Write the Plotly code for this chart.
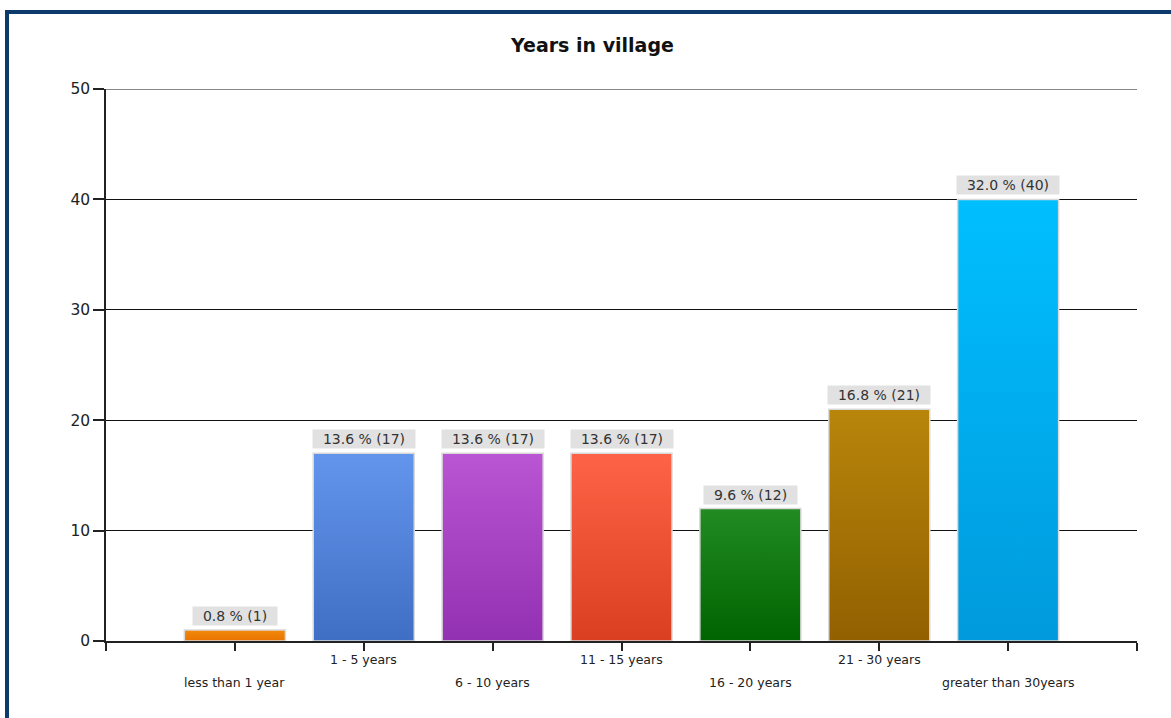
import plotly.graph_objects as go

# Survey answers: how long respondents have lived in the village
categories = ["less than 1 year", "1 - 5 years", "6 - 10 years", "11 - 15 years",
              "16 - 20 years", "21 - 30 years", "greater than 30years"]
counts = [1, 17, 17, 17, 12, 21, 40]

# Gradient end colours per bar (top, bottom)
top_colors = ["#F28A0C", "#6495ED", "#BA55D3", "#FF6347", "#228B22", "#B8860B", "#00BFFF"]
bottom_colors = ["#E97300", "#3F6FC4", "#9231B2", "#DA3F22", "#006400", "#926000", "#009ADC"]

y_ticks = [0, 10, 20, 30, 40, 50]

total = sum(counts)
FONT = "DejaVu Sans"
HALF_W = 0.392

fig = go.Figure()

# Bars as filled polygons so they can carry a vertical gradient
for i, (cat, n) in enumerate(zip(categories, counts)):
    xs = [i - HALF_W, i + HALF_W, i + HALF_W, i - HALF_W, i - HALF_W]
    ys = [0, 0, n, n, 0]
    fig.add_trace(go.Scatter(
        x=xs, y=ys, mode="lines", fill="toself", name=cat,
        line=dict(color="#D9D9D9", width=1.5),
        fillgradient=dict(type="vertical",
                          colorscale=[[0, bottom_colors[i]], [1, top_colors[i]]]),
        hoverinfo="skip", showlegend=False,
    ))

annotations = []
# Value labels above the bars
for i, n in enumerate(counts):
    pct = 100.0 * n / total
    annotations.append(dict(
        x=i, y=n, xref="x", yref="y", yanchor="bottom", xanchor="center",
        yshift=4, showarrow=False,
        text="\u00a0\u00a0%.1f %% (%d)\u00a0\u00a0" % (pct, n),
        font=dict(family=FONT, size=14, color="#333333"),
        bgcolor="#E1E1E1", borderpad=1,
    ))

# Category labels, staggered over two rows
for i, cat in enumerate(categories):
    annotations.append(dict(
        x=i, y=0, xref="x", yref="paper", yanchor="top", xanchor="center",
        yshift=-9 if i % 2 else -32, showarrow=False, text=cat,
        font=dict(family=FONT, size=12.5, color="#222222"),
    ))

# Chart title
annotations.append(dict(
    x=(592 - 106) / 1031, y=(641 - 45) / 552, xref="paper", yref="paper",
    xanchor="center", yanchor="middle", showarrow=False,
    text="<b>Years in village</b>",
    font=dict(family=FONT, size=19, color="#111111"),
))

fig.update_layout(
    width=1171, height=718,
    margin=dict(l=106, r=34, t=89, b=77),
    paper_bgcolor="white", plot_bgcolor="white",
    annotations=annotations,
    shapes=[
        # frame around the chart
        dict(type="line", xref="paper", yref="paper",
             x0=(7 - 106) / 1031, x1=(7 - 106) / 1031, y0=(641 - 10) / 552, y1=-0.3,
             line=dict(color="#0B3A6B", width=4)),
        dict(type="line", xref="paper", yref="paper",
             x0=(5 - 106) / 1031, x1=1.2, y0=(641 - 12) / 552, y1=(641 - 12) / 552,
             line=dict(color="#0B3A6B", width=4)),
        # gridline at the top of the value axis
        dict(type="line", xref="paper", yref="y", layer="below",
             x0=0, x1=1, y0=max(y_ticks), y1=max(y_ticks),
             line=dict(color="#111111", width=1)),
    ],
    xaxis=dict(
        range=[-1, len(categories)],
        tickvals=list(range(-1, len(categories) + 1)),
        ticktext=[""] * (len(categories) + 2),
        ticks="outside", ticklen=8, tickcolor="#222222", tickwidth=1.5,
        showline=True, linecolor="#222222", linewidth=1.5,
        showgrid=False, zeroline=False, fixedrange=True,
    ),
    yaxis=dict(
        range=[0, 50], tickvals=y_ticks,
        ticks="outside", ticklen=11, tickcolor="#222222", tickwidth=1.5,
        showline=True, linecolor="#222222", linewidth=1.5,
        showgrid=True, gridcolor="#111111", gridwidth=1,
        zeroline=False, fixedrange=True,
        tickfont=dict(family=FONT, size=15.5, color="#222222"),
    ),
)

fig.write_html("out.html")
